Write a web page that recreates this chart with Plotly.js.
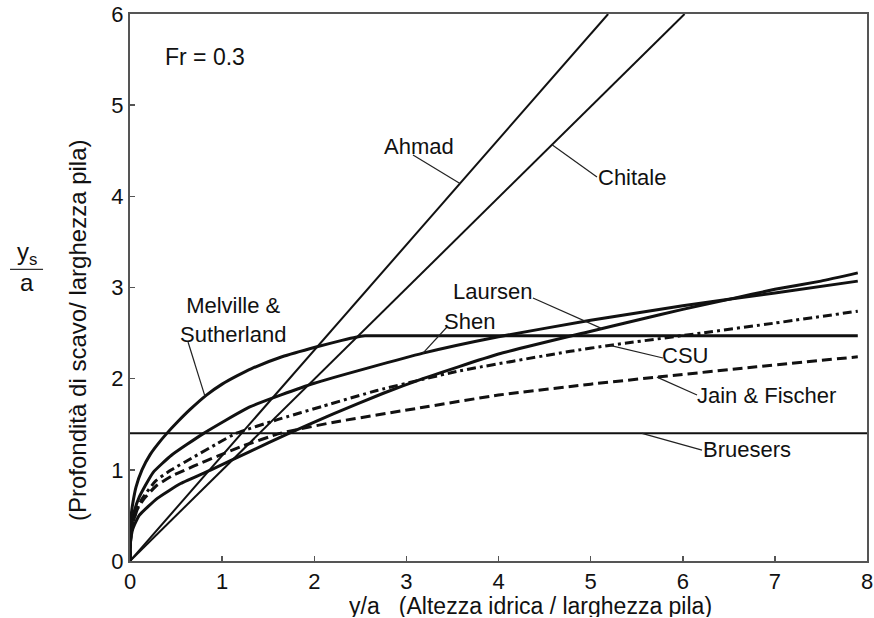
<!DOCTYPE html>
<html><head><meta charset="utf-8">
<script src="https://cdn.plot.ly/plotly-3.0.1.min.js"></script>
<style>html,body{margin:0;padding:0;background:#fff}#chart{width:874px;height:618px}</style>
</head><body><div id="chart"></div>
<script>
// ---- data (Fr = 0.3) ----
const ahmadX = [0, 5.19];
const ahmadY = [0, 6.0];
const chitaleX = [0, 6.02];
const chitaleY = [0, 6.0];
const bruesersX = [0, 8];
const bruesersY = [1.4, 1.4];
const melvilleX = [0, 0.003, 0.015, 0.035, 0.065, 0.13, 0.22, 0.3, 0.4, 0.52, 0.65, 0.83, 1.0, 1.16, 1.32, 1.65, 2.03, 2.3, 2.45, 2.55, 2.7, 7.9];
const melvilleY = [0, 0.30, 0.52, 0.66, 0.81, 1.0, 1.17, 1.28, 1.40, 1.53, 1.66, 1.82, 1.94, 2.03, 2.11, 2.24, 2.35, 2.42, 2.455, 2.47, 2.47, 2.47];
const shenX = [0, 0.003, 0.015, 0.04, 0.1, 0.25, 0.45, 0.8, 1.3, 2.0, 3.18, 4.0, 5.0, 6.0, 7.0, 7.9];
const shenY = [0, 0.26, 0.37, 0.52, 0.70, 0.97, 1.16, 1.40, 1.69, 1.95, 2.28, 2.46, 2.64, 2.80, 2.94, 3.07];
const laursenX = [0, 0.005, 0.03, 0.1, 0.3, 0.55, 0.88, 1.3, 1.7, 2.2, 2.75, 3.15, 4.0, 4.96, 5.5, 6.0, 6.5, 7.0, 7.5, 7.9];
const laursenY = [0, 0.20, 0.35, 0.50, 0.69, 0.85, 1.0, 1.20, 1.39, 1.61, 1.84, 1.99, 2.27, 2.51, 2.64, 2.76, 2.87, 2.98, 3.07, 3.16];
const csuX = [0, 0.003, 0.02, 0.06, 0.13, 0.28, 0.45, 0.69, 0.95, 1.15, 1.6, 2.1, 2.68, 3.55, 4.78, 5.24, 6.2, 7.0, 7.9];
const csuY = [0, 0.18, 0.35, 0.52, 0.68, 0.88, 1.0, 1.14, 1.29, 1.40, 1.55, 1.70, 1.87, 2.08, 2.30, 2.37, 2.50, 2.61, 2.74];
const jainX = [0, 0.003, 0.02, 0.08, 0.15, 0.28, 0.45, 0.69, 0.95, 1.22, 1.63, 2.2, 3.15, 4.0, 5.0, 5.75, 6.8, 7.9];
const jainY = [0, 0.20, 0.37, 0.57, 0.68, 0.82, 0.93, 1.04, 1.15, 1.26, 1.40, 1.52, 1.68, 1.82, 1.94, 2.02, 2.13, 2.24];
const xTicks = [0, 1, 2, 3, 4, 5, 6, 7, 8];
const yTicks = [0, 1, 2, 3, 4, 5, 6];

const FONT = 'Liberation Sans, Arial, Helvetica, sans-serif';
const INK = '#111';

function interp(xs, ys, x) {
  for (let i = 0; i < xs.length - 1; i++) {
    if (x >= xs[i] && x <= xs[i + 1]) {
      const t = (x - xs[i]) / (xs[i + 1] - xs[i]);
      return ys[i] + t * (ys[i + 1] - ys[i]);
    }
  }
  return ys[ys.length - 1];
}

const series = [
  {name: 'Ahmad', x: ahmadX, y: ahmadY, w: 2, dash: 'solid', shape: 'linear', sm: 0},
  {name: 'Chitale', x: chitaleX, y: chitaleY, w: 2, dash: 'solid', shape: 'linear', sm: 0},
  {name: 'Bruesers', x: bruesersX, y: bruesersY, w: 2, dash: 'solid', shape: 'linear', sm: 0},
  {name: 'Melville & Sutherland', x: melvilleX, y: melvilleY, w: 3, dash: 'solid', shape: 'spline', sm: 0.55},
  {name: 'Shen', x: shenX, y: shenY, w: 3, dash: 'solid', shape: 'spline', sm: 0.45},
  {name: 'Laursen', x: laursenX, y: laursenY, w: 3, dash: 'solid', shape: 'spline', sm: 0.45},
  {name: 'CSU', x: csuX, y: csuY, w: 3, dash: '9px,4px,3px,4px', shape: 'spline', sm: 0.45},
  {name: 'Jain & Fischer', x: jainX, y: jainY, w: 3, dash: '10px,5px', shape: 'spline', sm: 0.45}
];

const traces = series.map(s => ({
  type: 'scatter', mode: 'lines', name: s.name, x: s.x, y: s.y,
  line: {color: INK, width: s.w, dash: s.dash, shape: s.shape, smoothing: s.sm},
  hoverinfo: 'name'
}));

// labels: [text, label x, label y, leader start x, leader start y, series, target x]
const labels = [
  ['Ahmad', 3.137, 4.552, 3.072, 4.453, 0, 3.582],
  ['Chitale', 5.449, 4.212, 5.069, 4.212, 1, 4.581],
  ['Bruesers', 6.697, 1.228, 6.209, 1.217, 2, 5.558],
  ['Melville &<br>Sutherland', 1.118, 2.643, 0.630, 2.402, 3, 0.814],
  ['Shen', 3.680, 2.632, 3.441, 2.567, 4, 3.180],
  ['Laursen', 3.940, 2.951, 4.374, 2.885, 5, 5.123],
  ['CSU', 6.024, 2.249, 5.786, 2.227, 6, 5.210],
  ['Jain & Fischer', 6.914, 1.810, 6.155, 1.821, 7, 5.720]
];

const annotations = labels.map(l => ({
  text: l[0], x: l[1], y: l[2], xref: 'x', yref: 'y', showarrow: false,
  xanchor: 'center', yanchor: 'middle', align: 'center',
  font: {family: FONT, size: 22, color: INK}
}));
const shapes = labels.map(l => {
  const s = series[l[5]];
  return {type: 'line', xref: 'x', yref: 'y', layer: 'above',
    x0: l[3], y0: l[4], x1: l[6], y1: interp(s.x, s.y, l[6]),
    line: {color: '#222', width: 1.2}};
});

annotations.push({text: 'Fr = 0.3', x: 0.358, y: 5.53, xref: 'x', yref: 'y', showarrow: false,
  xanchor: 'left', yanchor: 'middle', font: {family: FONT, size: 23, color: INK}});
// axis titles
annotations.push({text: 'y/a\u00a0\u00a0\u00a0(Altezza idrica / larghezza pila)', x: 0.544, y: -0.0823,
  xref: 'paper', yref: 'paper', showarrow: false, xanchor: 'center', yanchor: 'middle', height: 22,
  font: {family: FONT, size: 23, color: INK}});
annotations.push({text: '(Profondità di scavo/ larghezza pila)', x: -0.0719, y: 0.4223,
  xref: 'paper', yref: 'paper', showarrow: false, textangle: -90, xanchor: 'center', yanchor: 'middle',
  font: {family: FONT, size: 24, color: INK}});
annotations.push({text: 'y<sub>s</sub>', x: -0.1398, y: 0.562, xref: 'paper', yref: 'paper',
  showarrow: false, xanchor: 'center', yanchor: 'middle', font: {family: FONT, size: 24, color: INK}});
annotations.push({text: 'a', x: -0.1398, y: 0.510, xref: 'paper', yref: 'paper',
  showarrow: false, xanchor: 'center', yanchor: 'middle', font: {family: FONT, size: 24, color: INK}});
shapes.push({type: 'line', xref: 'paper', yref: 'paper', x0: -0.1628, x1: -0.118, y0: 0.533, y1: 0.533,
  line: {color: '#333', width: 1.2}});

const axisCommon = {
  showgrid: false, zeroline: false, showline: true, linecolor: '#555', linewidth: 2, mirror: true,
  ticks: 'inside', ticklen: 5, tickwidth: 1.5, tickcolor: '#555',
  tickfont: {family: FONT, size: 22, color: INK}, fixedrange: true
};

const layout = {
  width: 874, height: 618,
  margin: {l: 130, r: 7, t: 14, b: 57, pad: 0},
  paper_bgcolor: '#fff', plot_bgcolor: '#fff',
  showlegend: false,
  xaxis: Object.assign({}, axisCommon, {range: [0, 8], tickvals: xTicks, ticktext: xTicks.map(String)}),
  yaxis: Object.assign({}, axisCommon, {range: [0, 6], tickvals: yTicks, ticktext: yTicks.map(String)}),
  annotations: annotations, shapes: shapes,
  font: {family: FONT, color: INK}
};

Plotly.newPlot('chart', traces, layout, {staticPlot: true, displayModeBar: false});
</script>
</body></html>
